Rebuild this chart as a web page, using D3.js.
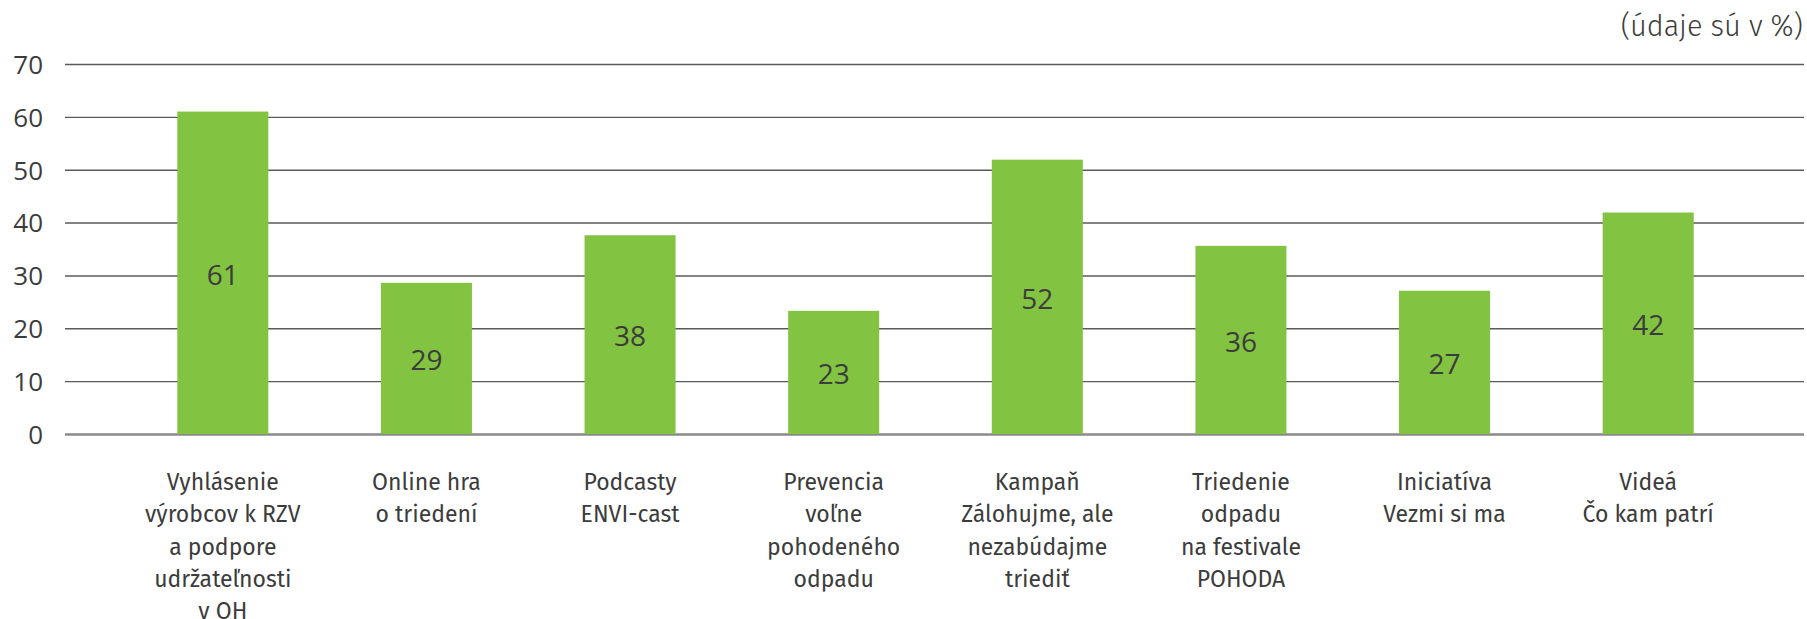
<!DOCTYPE html>
<html>
<head>
<meta charset="utf-8">
<script src="https://cdn.jsdelivr.net/npm/d3@7"></script>
<style>
    body { margin: 0; background: #fff; }
    svg { display: block; font-family: "Fira Sans", "Open Sans", sans-serif; }
    .axis text { fill: #3c3c3c; font-size: 26px; font-family: "Open Sans", sans-serif; }
    .axis line { stroke: #5a5a5a; stroke-width: 1.4; }
    .cat-label { fill: #3c3c3c; font-size: 23px; }
    .value-label { fill: #3c3c3c; font-size: 28px; font-family: "Open Sans", sans-serif; }
    .unit-note { fill: #3c3c3c; font-size: 29px; font-weight: 300; }
</style>
</head>
<body>
<div id="chart"></div>
<script>
// Data
const categories = [
    ["Vyhlásenie", "výrobcov k RZV", "a podpore", "udržateľnosti", "v OH"],
    ["Online hra", "o triedení"],
    ["Podcasty", "ENVI-cast"],
    ["Prevencia", "voľne", "pohodeného", "odpadu"],
    ["Kampaň", "Zálohujme, ale", "nezabúdajme", "triediť"],
    ["Triedenie", "odpadu", "na festivale", "POHODA"],
    ["Iniciatíva", "Vezmi si ma"],
    ["Videá", "Čo kam patrí"]
];
const values = [61, 28.6, 37.6, 23.3, 51.9, 35.6, 27.1, 41.9];
const yTicks = [0, 10, 20, 30, 40, 50, 60, 70];
const unitNote = "(údaje sú v %)";

const margin = {top: 64, right: 3, bottom: 185, left: 65};
const width = 1807 - margin.left - margin.right;
const height = 619 - margin.top - margin.bottom;

const root = d3.select("#chart")
    .append("svg")
    .attr("width", 1807)
    .attr("height", 619);

const svg = root.append("g")
    .attr("transform", `translate(${margin.left},${margin.top})`);

const x = d3.scaleBand()
    .domain(d3.range(categories.length))
    .range([56, 1685])
    .paddingInner(0.553)
    .paddingOuter(0.2765);

const y = d3.scaleLinear()
    .domain([0, 70])
    .range([height, 0]);

// Y axis with gridlines
svg.append("g")
    .attr("class", "axis")
    .call(d3.axisLeft(y)
        .tickValues(yTicks)
        .tickSize(-width)
        .tickPadding(22)
    )
    .call(g => g.select(".domain").remove())
    .call(g => g.selectAll(".tick text").attr("dy", "0.36em"))
    .call(g => g.selectAll(".tick").filter(d => d === 0).select("line")
        .style("stroke", "#8a8a8a")
        .style("stroke-width", 2.4));

// Bars
svg.selectAll(".bar")
    .data(values)
    .enter().append("rect")
    .attr("class", "bar")
    .attr("x", (d, i) => x(i))
    .attr("width", x.bandwidth())
    .attr("y", d => y(d))
    .attr("height", d => height - y(d))
    .attr("fill", "#82c341");

// Value labels in the middle of each bar
svg.selectAll(".value-label")
    .data(values)
    .enter().append("text")
    .attr("class", "value-label")
    .attr("x", (d, i) => x(i) + x.bandwidth() / 2)
    .attr("y", d => (y(d) + height) / 2)
    .attr("dy", "0.42em")
    .attr("text-anchor", "middle")
    .text(d => Math.round(d));

// Category labels (multi-line)
const labels = svg.selectAll(".cat-label")
    .data(categories)
    .enter().append("text")
    .attr("class", "cat-label")
    .attr("text-anchor", "middle")
    .attr("transform", (d, i) => `translate(${x(i) + x.bandwidth() / 2},${height + 56})`);

labels.selectAll("tspan")
    .data(d => d)
    .enter().append("tspan")
    .attr("x", 0)
    .attr("y", (d, i) => i * 32.3)
    .text(d => d);

// Unit note
root.append("text")
    .attr("class", "unit-note")
    .attr("x", 1803)
    .attr("y", 36)
    .attr("text-anchor", "end")
    .text(unitNote);
</script>
</body>
</html>
